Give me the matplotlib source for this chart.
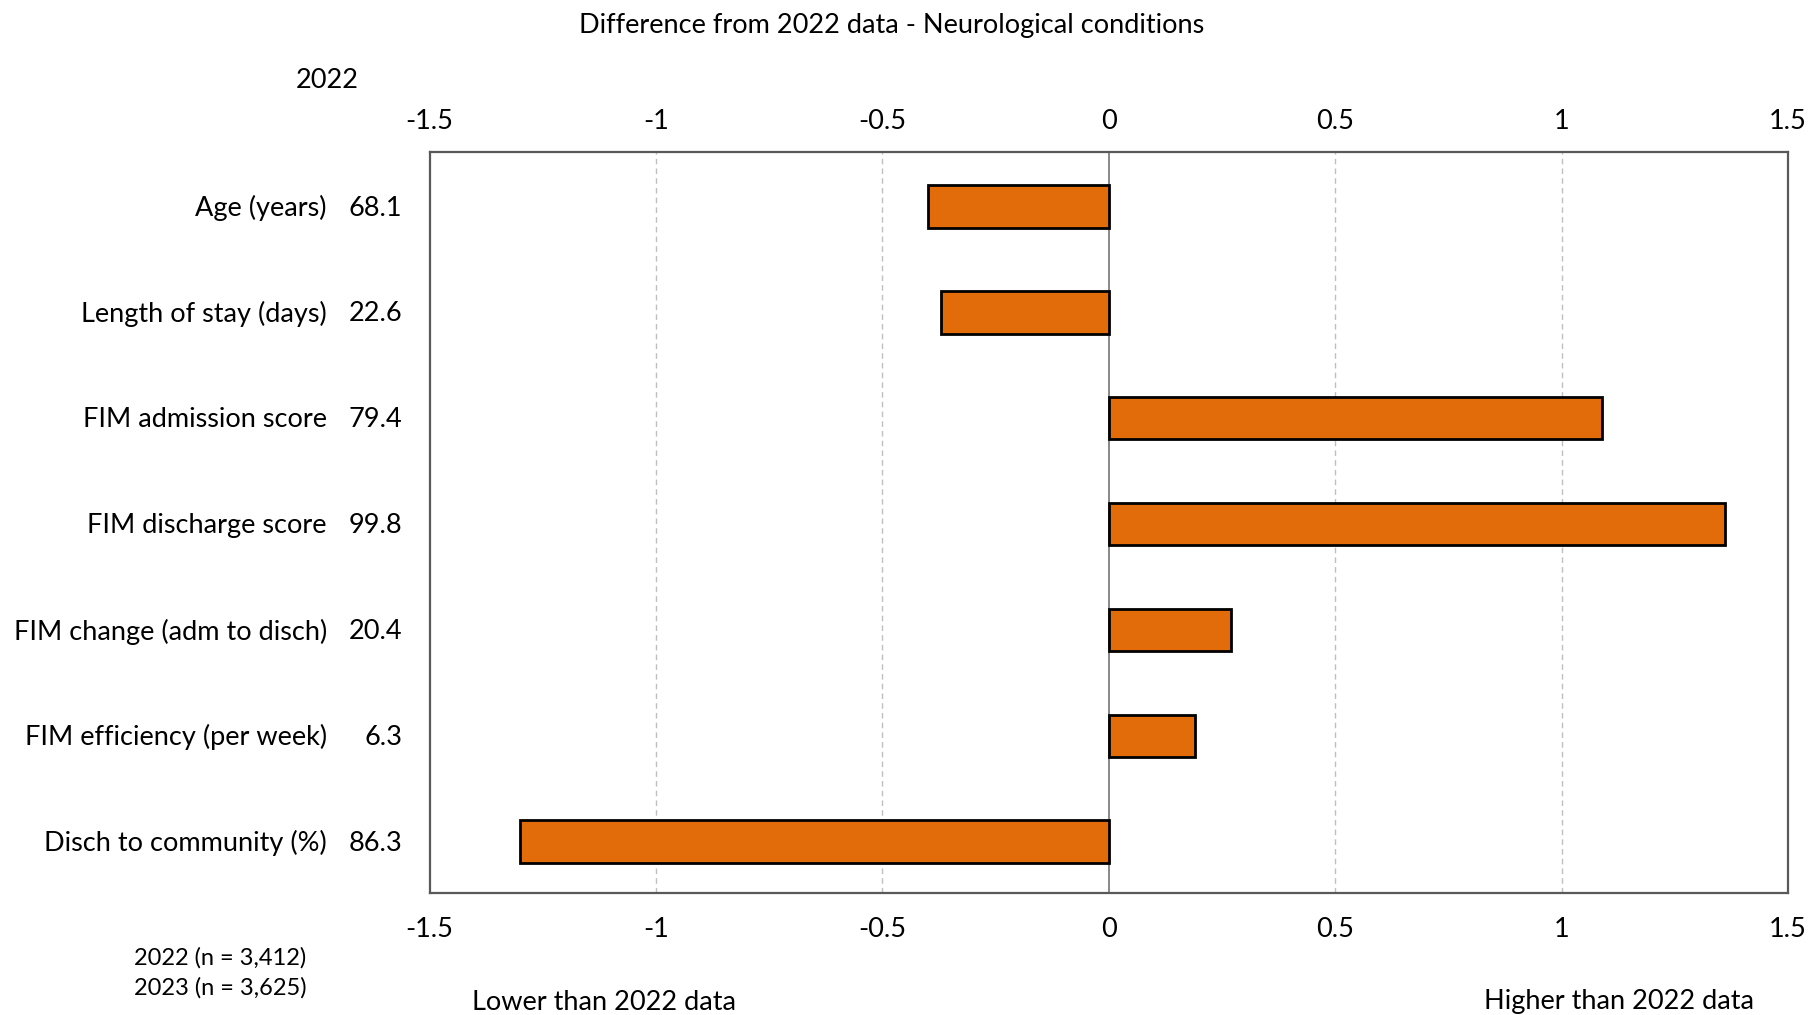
import numpy as np
import matplotlib.pyplot as plt

# data
categories = ['Age (years)', 'Length of stay (days)', 'FIM admission score',
              'FIM discharge score', 'FIM change (adm to disch)',
              'FIM efficiency (per week)', 'Disch to community (%)']
values_2022 = ['68.1', '22.6', '79.4', '99.8', '20.4', '6.3', '86.3']
diff = [-0.40, -0.37, 1.09, 1.36, 0.27, 0.19, -1.30]
xticks = [-1.5, -1, -0.5, 0, 0.5, 1, 1.5]
xtick_labels = ['-1.5', '-1', '-0.5', '0', '0.5', '1', '1.5']

plt.rcParams['font.family'] = ['Lato', 'DejaVu Sans']
FS = 19.5

fig = plt.figure(figsize=(18.1, 10.15), dpi=100)
ax = fig.add_axes([429.5 / 1810, 1 - 893 / 1015, (1788 - 429.5) / 1810, (893 - 152) / 1015])

y = np.arange(len(categories))
ax.barh(y + 0.015, diff, height=0.4, color='#E36C0A', edgecolor='black', linewidth=2, zorder=3)

ax.set_xlim(-1.5, 1.5)
ax.set_ylim(len(categories) - 0.5, -0.5)
ax.set_xticks(xticks)
ax.set_xticklabels(xtick_labels, fontsize=FS)
ax.tick_params(axis='x', length=0, pad=17)
ax.set_yticks([])

# top tick labels sit a little closer to the frame
top = ax.secondary_xaxis('top')
top.set_xticks(xticks)
top.set_xticklabels(xtick_labels, fontsize=FS)
top.tick_params(axis='x', length=0, pad=13)
top.spines['top'].set_visible(False)

for x in xticks[1:-1]:
    if x == 0:
        ax.axvline(0, color='#7f7f7f', lw=1.3, zorder=2)
    else:
        ax.axvline(x, color='#bfbfbf', lw=1, ls=(0, (4, 3)), zorder=1)
for s in ax.spines.values():
    s.set_color('#595959')
    s.set_linewidth(1.6)

# row labels and 2022 values
for i, (cat, val) in enumerate(zip(categories, values_2022)):
    ax.text(-1.5 - 102.5 / 452.8, i + 0.03, cat, ha='right', va='center', fontsize=FS)
    ax.text(-1.5 - 27 / 452.8, i + 0.03, val, ha='right', va='center', fontsize=FS)

fig.text(327 / 1810, 1 - 80 / 1015, '2022', ha='center', va='center', fontsize=FS)
fig.text(892 / 1810, 1 - 25 / 1015, 'Difference from 2022 data - Neurological conditions',
         ha='center', va='center', fontsize=FS)
fig.text(134 / 1810, 1 - 958 / 1015, '2022 (n = 3,412)', ha='left', va='center', fontsize=17)
fig.text(134 / 1810, 1 - 988 / 1015, '2023 (n = 3,625)', ha='left', va='center', fontsize=17)
fig.text(604 / 1810, 1 - 1002 / 1015, 'Lower than 2022 data', ha='center', va='center', fontsize=FS)
fig.text(1619 / 1810, 1 - 1002 / 1015, 'Higher than 2022 data', ha='center', va='center', fontsize=FS)

plt.savefig('out.png', dpi=100)
